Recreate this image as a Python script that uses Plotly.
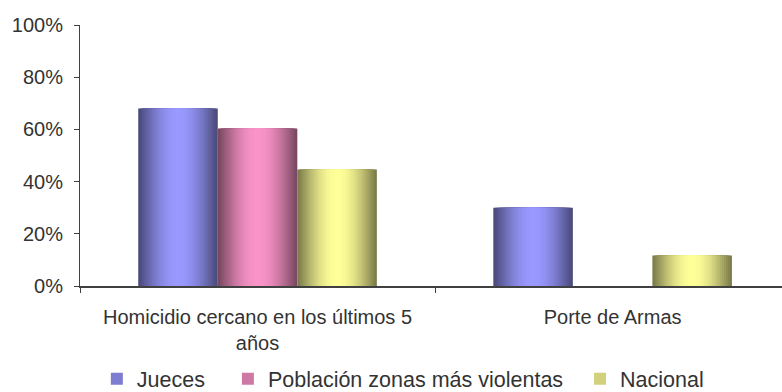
import math
import plotly.graph_objects as go

categories = ["Homicidio cercano en los últimos 5<br>años", "Porte de Armas"]
series_names = ["Jueces", "Población zonas más violentas", "Nacional"]
jueces = [0.68, 0.30]
poblacion = [0.603, None]
nacional = [0.446, 0.117]
series_values = [jueces, poblacion, nacional]
peak_colors = [(153, 153, 255), (250, 148, 200), (255, 255, 153)]
y_ticks = [0, 0.2, 0.4, 0.6, 0.8, 1.0]

FONT = "Liberation Sans, Arial, sans-serif"
TXT = "#333333"
AX = "#404040"
NB = "\u00a0"
legend_pad = [3, 2, 0]  # trailing non-breaking spaces to widen legend gaps

bar_w = 0.224
group_left = -1.5 * bar_w
N = 20


def shade(rgb, f):
    return "rgb(%d,%d,%d)" % tuple(max(0, min(255, round(c * f))) for c in rgb)


def prof(t):
    # t: 0 at bar edge, 0.5 at bar centre
    return 0.47 + 0.53 * (math.sin(math.pi * t) ** 1.05)


fig = go.Figure()
for s, (name, vals, rgb) in enumerate(zip(series_names, series_values, peak_colors)):
    left = group_left + s * bar_w
    # nested centred bars: widest/darkest first, narrowest/lightest on top
    for k in range(N):
        wk = bar_w * (1 - k / N)
        t = (k + 0.5) / (2 * N)
        fig.add_trace(go.Bar(
            x=categories, y=vals, offset=left + (bar_w - wk) / 2, width=wk,
            marker=dict(color=shade(rgb, prof(t)), line=dict(width=0)),
            showlegend=False, hoverinfo="skip"))
    # legend-only entry
    fig.add_trace(go.Bar(
        x=categories, y=[None, None], name=name + NB * legend_pad[s],
        marker=dict(color=shade(rgb, 0.82), line=dict(width=0)),
        showlegend=True, hoverinfo="skip"))

fig.update_layout(
    width=782, height=392,
    margin=dict(l=80, r=0, t=25, b=106),
    paper_bgcolor="white", plot_bgcolor="white",
    barmode="overlay",
    font=dict(family=FONT, size=20, color=TXT),
    showlegend=True,
    legend=dict(orientation="h", xref="paper", x=0.024, xanchor="left",
                yref="container", y=0.034, yanchor="middle",
                font=dict(family=FONT, size=21.5, color=TXT), traceorder="normal",
                itemwidth=30, bgcolor="rgba(0,0,0,0)"),
    xaxis=dict(type="category", range=[-0.5, 1.477], tickson="boundaries",
               ticks="outside", ticklen=5, tickcolor=AX, showline=True,
               linecolor=AX, linewidth=1.5, showgrid=False, zeroline=False,
               ticklabelstandoff=12, automargin=False,
               tickfont=dict(family=FONT, size=20, color=TXT)),
    yaxis=dict(range=[0, 1], tickvals=y_ticks, tickformat=".0%", ticks="outside",
               ticklen=5, tickcolor=AX, showline=True, linecolor=AX, linewidth=1,
               showgrid=False, zeroline=False, ticklabelstandoff=7, automargin=False,
               tickfont=dict(family=FONT, size=20, color=TXT)),
)

fig.write_html("out.html")
